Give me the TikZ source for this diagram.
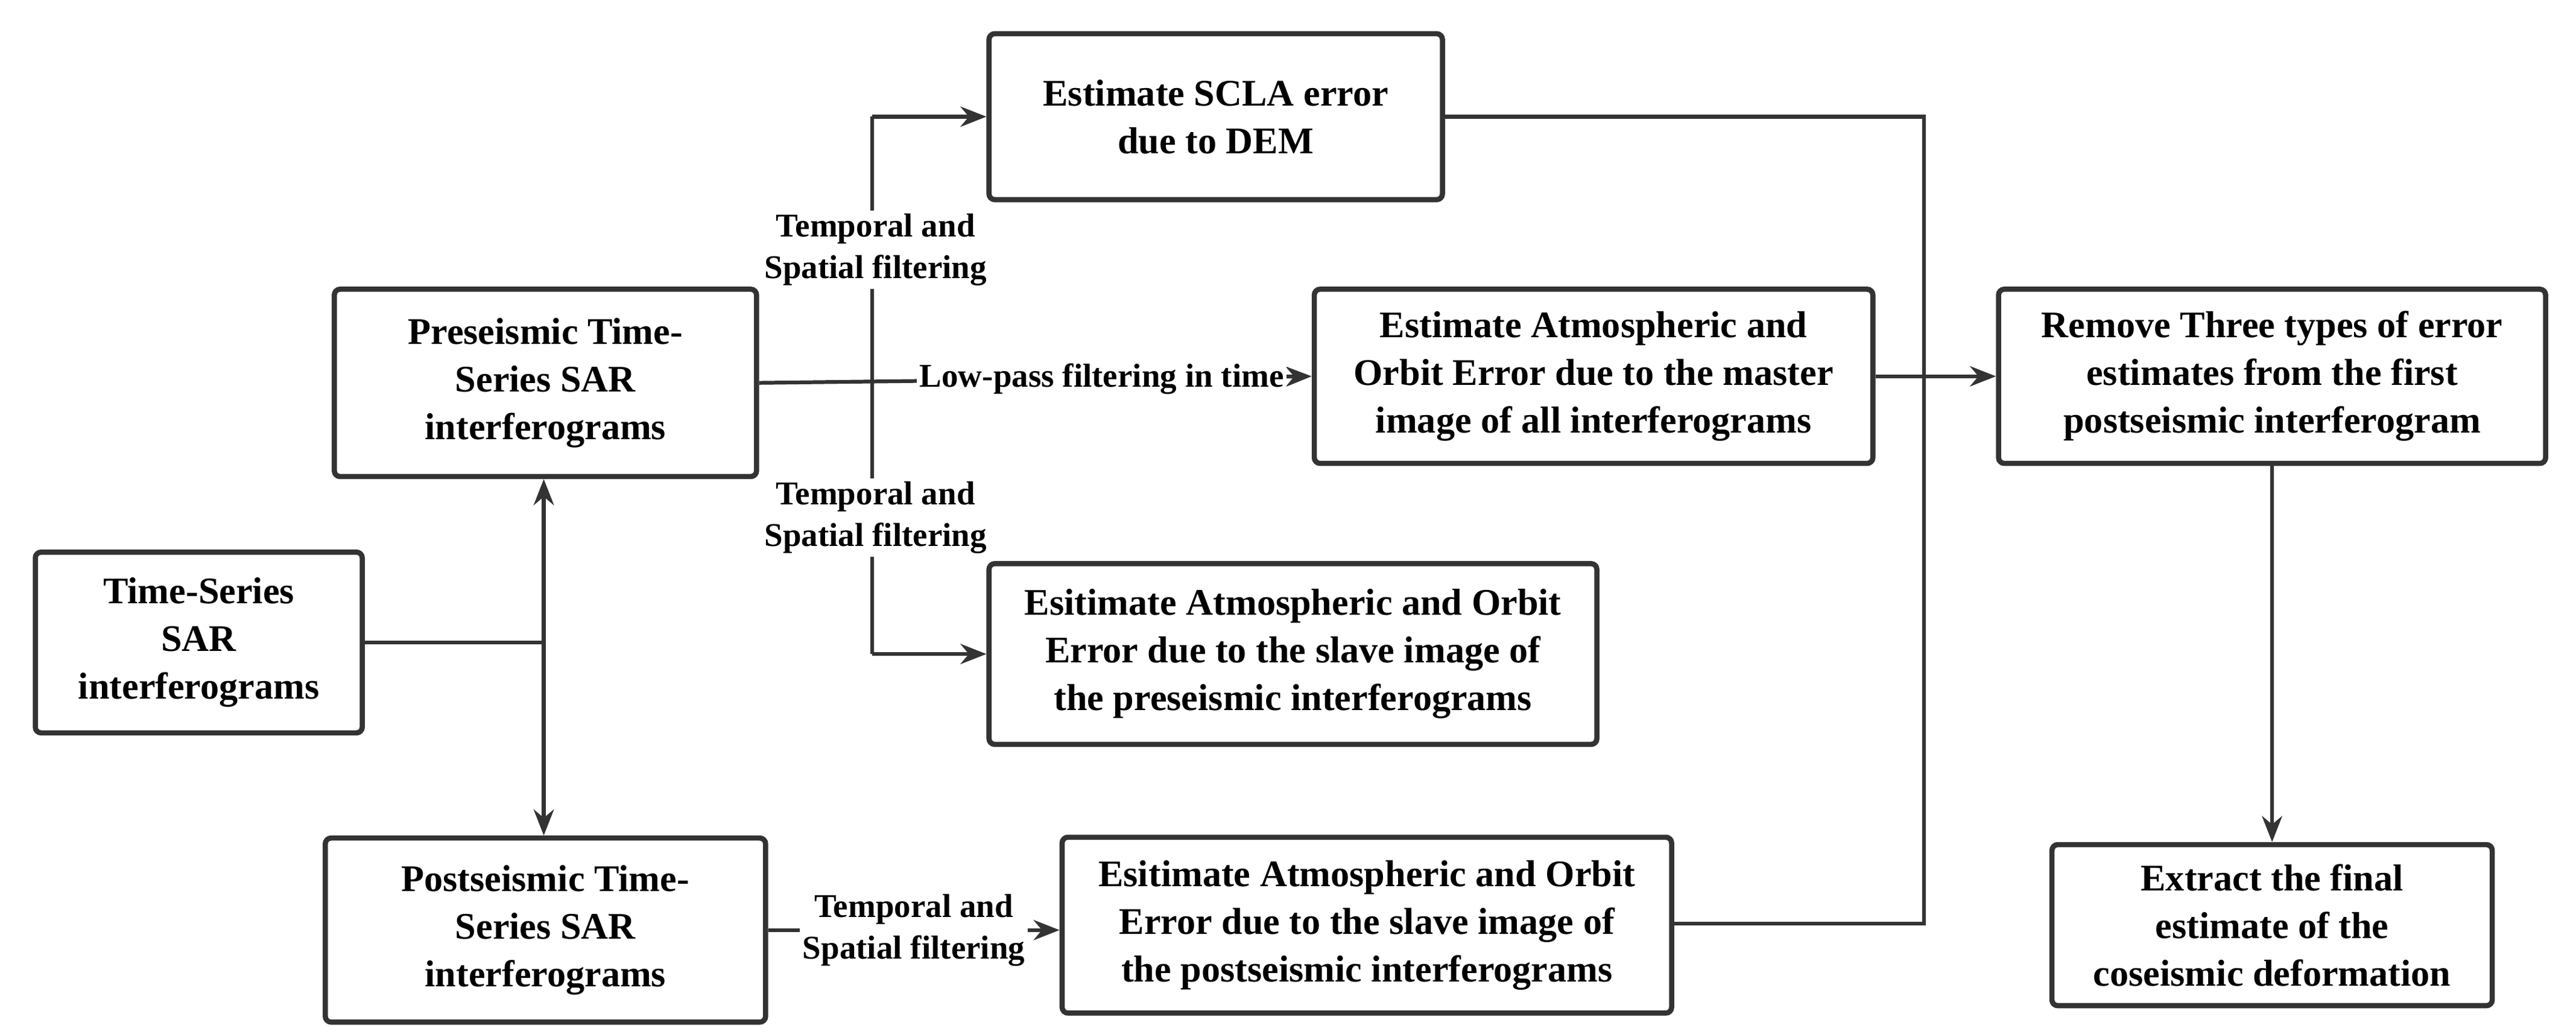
\documentclass[tikz,border=0pt]{standalone}
\usepackage{fontspec}
\setmainfont{Liberation Serif}
\usetikzlibrary{arrows.meta}
\begin{document}
\begin{tikzpicture}[x=0.02cm,y=-0.02cm,
  box/.style={draw=black!80,line width=1.8pt,rounded corners=2pt,align=center,inner sep=0pt,font=\fontsize{13}{16.5}\selectfont\bfseries},
  ln/.style={draw=black!80,line width=1.3pt},
  arr/.style={ln,-{Stealth[length=9pt,width=7pt]}},
  lab/.style={fill=white,inner sep=1pt,align=center,font=\fontsize{11.5}{14.5}\selectfont\bfseries}]
\useasboundingbox (0,0) rectangle (1568,629);
\node[box,minimum width=199*0.02cm,minimum height=110*0.02cm] (ts) at (121,391) {Time-Series\\SAR\\interferograms};
\node[box,minimum width=257*0.02cm,minimum height=114*0.02cm] (pre) at (332,233) {Preseismic Time-\\Series SAR\\interferograms};
\node[box,minimum width=268*0.02cm,minimum height=112*0.02cm] (post) at (332,566) {Postseismic Time-\\Series SAR\\interferograms};
\node[box,minimum width=276*0.02cm,minimum height=101*0.02cm] (scla) at (740,71) {Estimate SCLA error\\due to DEM};
\node[box,minimum width=340*0.02cm,minimum height=106*0.02cm] (mast) at (970,229) {Estimate Atmospheric and\\Orbit Error due to the master\\image of all interferograms};
\node[box,minimum width=370*0.02cm,minimum height=110*0.02cm] (spre) at (787,398) {Esitimate Atmospheric and Orbit\\Error due to the slave image of\\the preseismic interferograms};
\node[box,minimum width=371*0.02cm,minimum height=107*0.02cm] (spost) at (832,563) {Esitimate Atmospheric and Orbit\\Error due to the slave image of\\the postseismic interferograms};
\node[box,minimum width=333*0.02cm,minimum height=106*0.02cm] (rem) at (1383,229) {Remove Three types of error\\estimates from the first\\postseismic interferogram};
\node[box,minimum width=268*0.02cm,minimum height=98*0.02cm] (ext) at (1383,563) {Extract the final\\estimate of the\\coseismic deformation};
\coordinate (j) at (331,391);
\coordinate (vt) at (531,71);
\coordinate (vb) at (531,398);
\coordinate (c1) at (1171,71);
\coordinate (c2) at (1171,562);
\draw[ln] (ts.east |- j) -- (j);
\draw[arr] (j) -- (j |- pre.south);
\draw[arr] (j) -- (j |- post.north);
\draw[ln] (vt) -- (vb);
\draw[arr] (vt) -- (scla.west |- vt);
\draw[arr] (vb) -- (spre.west |- vb);
\draw[arr] (pre.east) -- node[lab,pos=0.62]{Low-pass filtering in time} (mast.west);
\node[lab] at (533,152) {Temporal and\\Spatial filtering};
\node[lab] at (533,315) {Temporal and\\Spatial filtering};
\draw[arr] (post.east |- 0,566) -- node[lab]{Temporal and\\Spatial filtering} (spost.west |- 0,566);
\draw[ln] (scla.east |- vt) -- (c1) -- (c2) -- (spost.east |- c2);
\draw[arr] (mast.east) -- (rem.west);
\draw[arr] (rem.south) -- (ext.north);
\end{tikzpicture}
\end{document}
